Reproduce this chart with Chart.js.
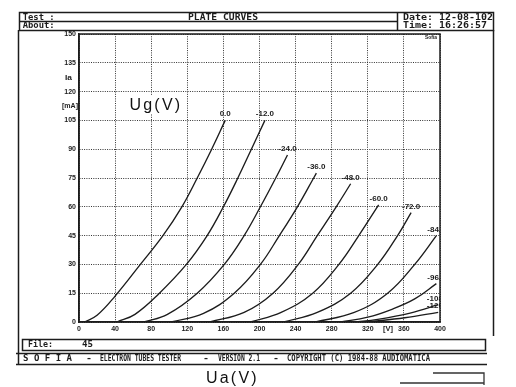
<!DOCTYPE html>
<html><head><meta charset="utf-8">
<script src="https://cdn.jsdelivr.net/npm/chart.js@4.4.1/dist/chart.umd.min.js"></script>
<style>html,body{margin:0;padding:0;background:#fff;}canvas{display:block;}</style>
</head><body>
<canvas id="c" width="516" height="387"></canvas>
<script>
// Tick labels
const uaTicks = [0,40,80,120,160,200,240,280,320,360,400];
const iaTicks = [0,15,30,45,60,75,90,105,120,135,150];
// Grid voltage of each curve (label text)
const gridVoltageLabels = ['0.0','-12.0','-24.0','-36.0','-48.0','-60.0','-72.0','-84.0','-96.0','-108.0','-120.0'];
// Plate curves: [plate voltage Ua (V), plate current Ia (mA)]
const ug0    = [[6,0],[20,3.5],[40,13.5],[68,30],[93,45],[114,60],[131,75],[147,90],[162,105]];
const ugM12  = [[42,0],[62,4],[88,14.5],[119,30],[142,45],[160,60],[176,75],[191,90],[206,105]];
const ugM24  = [[72,0],[98,4],[131,15],[161,30],[183,45],[201,60],[218,75],[231,87]];
const ugM36  = [[102,0],[138,4.5],[172,15],[201,30],[222,45],[242,60],[260,75],[263,77.5]];
const ugM48  = [[145,0],[183,5],[215,15],[243,30],[264,45],[285,60],[301,72]];
const ugM60  = [[190,0],[224,5],[259,15],[288,30],[310,45],[332,61]];
const ugM72  = [[227,0],[264,5],[301,15],[331,30],[353,45],[368,57]];
const ugM84  = [[262,0],[305,5],[342,15],[372,30],[396,45]];
const ugM96  = [[290,0],[320,2.5],[346,6.5],[372,12],[396,20]];
const ugM108 = [[305,0],[331,1.4],[368,4.8],[398,9]];
const ugM120 = [[320,0],[361,2.2],[398,5]];

const curves = [ug0,ugM12,ugM24,ugM36,ugM48,ugM60,ugM72,ugM84,ugM96,ugM108,ugM120];
const INK = '#1c1c1c';

const datasets = curves.map((pts,i)=>({
  label: gridVoltageLabels[i],
  data: pts.map(p=>({x:p[0], y:p[1]})),
  borderColor: INK, borderWidth: 1.35, pointRadius: 0, fill: false,
  tension: 0.4
}));

function fitText(ctx, text, x, y, width, font) {
  ctx.save();
  ctx.font = font;
  ctx.textAlign = 'left';
  ctx.textBaseline = 'alphabetic';
  const w = ctx.measureText(text).width;
  ctx.translate(x, y);
  if (width) ctx.scale(width / w, 1);
  ctx.fillText(text, 0, 0);
  ctx.restore();
}

const framePlugin = {
  id: 'frame',
  beforeDraw(chart) {
    const ctx = chart.ctx;
    ctx.save();
    ctx.fillStyle = '#fff';
    ctx.fillRect(0, 0, chart.width, chart.height);
    ctx.restore();
  },
  afterDatasetsDraw(chart) {
    const ctx = chart.ctx, a = chart.chartArea;
    ctx.save();
    ctx.beginPath();
    ctx.rect(a.left, a.top - 20, a.right - a.left, a.bottom - a.top + 20);
    ctx.clip();
    ctx.fillStyle = INK;
    ctx.font = 'bold 8px "Liberation Sans"';
    ctx.textAlign = 'center';
    ctx.textBaseline = 'alphabetic';
    chart.data.datasets.forEach((ds, i) => {
      const meta = chart.getDatasetMeta(i);
      const p = meta.data[meta.data.length - 1];
      ctx.fillText(ds.label, p.x, p.y - 4);
    });
    ctx.restore();
  },
  afterDraw(chart) {
    const ctx = chart.ctx, a = chart.chartArea;
    ctx.save();
    ctx.strokeStyle = INK;
    ctx.fillStyle = INK;
    // plot box
    ctx.lineWidth = 1.5;
    ctx.strokeRect(a.left, a.top, a.right - a.left, a.bottom - a.top);
    // header box
    ctx.strokeRect(19.5, 12.5, 474, 18);
    ctx.beginPath();
    ctx.moveTo(19.5, 21.5); ctx.lineTo(397, 21.5);
    ctx.moveTo(397.5, 12.5); ctx.lineTo(397.5, 30.5);
    // side frame
    ctx.moveTo(18.5, 30); ctx.lineTo(18.5, 364);
    ctx.moveTo(493.5, 30); ctx.lineTo(493.5, 336);
    // footer lines
    ctx.moveTo(16, 353.5); ctx.lineTo(487, 353.5);
    ctx.moveTo(16, 364.5); ctx.lineTo(487, 364.5);
    ctx.stroke();
    // file box
    ctx.strokeRect(22.5, 339.5, 463, 11);
    // scribbles bottom-right
    ctx.lineWidth = 1.3;
    ctx.strokeStyle = '#333';
    ctx.beginPath();
    ctx.moveTo(433, 373); ctx.lineTo(484, 373); ctx.lineTo(484, 385);
    ctx.moveTo(400, 383); ctx.lineTo(484, 383);
    ctx.stroke();

    const hf = 'bold 8px "DejaVu Sans Mono"';
    fitText(ctx, 'Test :', 22.7, 19.5, 32, hf);
    fitText(ctx, 'About:', 22.7, 28, 32, hf);
    fitText(ctx, 'PLATE CURVES', 188, 19.5, 70, hf);
    fitText(ctx, 'Date: 12-08-102', 403, 19.5, 90, hf);
    fitText(ctx, 'Time: 16:26:57', 403, 28, 84, hf);
    fitText(ctx, 'File:', 28, 347, 25, hf);
    fitText(ctx, '45', 82, 347, 11, hf);
    fitText(ctx, 'S O F I A', 23, 361, 49, hf);
    fitText(ctx, '-', 86, 361, 6, hf);
    fitText(ctx, 'ELECTRON TUBES TESTER', 100, 361, 81, hf);
    fitText(ctx, '-', 203, 361, 6, hf);
    fitText(ctx, 'VERSION 2.1', 218, 361, 42, hf);
    fitText(ctx, '-', 273, 361, 6, hf);
    fitText(ctx, 'COPYRIGHT (C) 1984-88 AUDIOMATICA', 287, 361, 143, hf);

    const af = 'bold 7px "Liberation Sans"';
    fitText(ctx, 'Ia', 65, 80, 7, af);
    fitText(ctx, '[mA]', 62, 107.5, 16, af);
    fitText(ctx, '[V]', 383, 331, 10, af);
    fitText(ctx, 'Sofia', 425, 39, 12, 'bold 6px "Liberation Sans"');

    // big annotation labels
    ctx.font = '16px "Liberation Sans"';
    ctx.letterSpacing = '2.2px';
    ctx.textAlign = 'left';
    ctx.textBaseline = 'alphabetic';
    const w = ctx.measureText('Ug(V)').width;
    ctx.fillStyle = '#fff';
    ctx.fillRect(129, 96, w + 1, 18);
    ctx.fillStyle = '#111';
    ctx.fillText('Ug(V)', 129.5, 110);
    ctx.fillText('Ua(V)', 206, 383);
    ctx.restore();
  }
};

const tickFont = {family: 'Liberation Sans', size: 7, weight: 'bold'};

new Chart(document.getElementById('c'), {
  type: 'line',
  data: {datasets},
  options: {
    responsive: false,
    animation: false,
    devicePixelRatio: 1,
    layout: {padding: {left: 0, top: 34, right: 76, bottom: 0}},
    plugins: {legend: {display: false}, tooltip: {enabled: false}},
    scales: {
      x: {
        type: 'linear', min: 0, max: 400,
        afterBuildTicks: s => { s.ticks = uaTicks.map(v => ({value: v})); },
        afterFit: s => { s.height = 65; },
        grid: {color: '#333', lineWidth: 1, drawTicks: false},
        border: {display: true, color: INK, width: 1.5, dash: [1, 1.3]},
        ticks: {color: INK, font: tickFont, padding: 3, maxRotation: 0, autoSkip: false}
      },
      y: {
        type: 'linear', min: 0, max: 150,
        afterBuildTicks: s => { s.ticks = iaTicks.map(v => ({value: v})); },
        afterFit: s => { s.width = 79; },
        grid: {color: '#333', lineWidth: 1, drawTicks: false},
        border: {display: true, color: INK, width: 1.5, dash: [1, 1.3]},
        ticks: {color: INK, font: tickFont, padding: 3, autoSkip: false}
      }
    }
  },
  plugins: [framePlugin]
});
</script>
</body></html>
